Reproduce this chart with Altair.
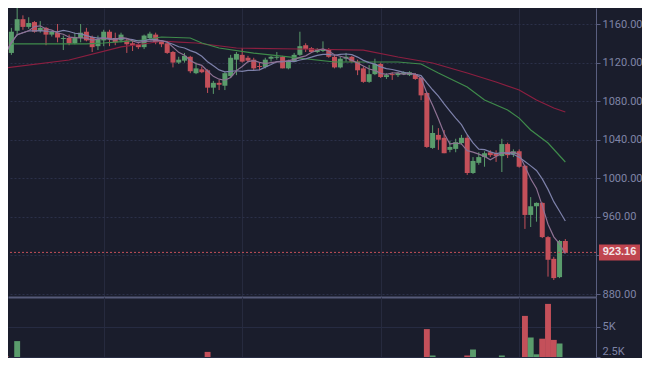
import altair as alt
import pandas as pd

# ---------------- data ----------------
open_ = [1141, 1130, 1153, 1165, 1157, 1162, 1153, 1156, 1149, 1151,
         1144.5, 1145.5, 1140, 1145.5, 1152, 1146.5, 1137, 1143, 1152, 1145.5,
         1143, 1143, 1140, 1139, 1136, 1145.5, 1149, 1142, 1140, 1131,
         1120, 1122, 1126, 1109, 1113, 1112, 1094, 1099, 1096, 1106,
         1123, 1128, 1125, 1123, 1116.5, 1115.5, 1124, 1125, 1126, 1114,
         1121, 1128, 1138, 1135, 1131, 1132, 1134, 1126, 1115, 1124,
         1126, 1121, 1114, 1100, 1108, 1118.5, 1105, 1108, 1107, 1108,
         1107, 1108, 1104, 1088.5, 1031.5, 1045, 1042, 1029.5, 1030.5, 1036.5,
         1042, 1005.5, 1016, 1022, 1027, 1026, 1023, 1035.5, 1025, 1028,
         1013, 962, 971, 974.5, 939, 916.5, 897.5, 935]
close = [1130, 1152, 1165, 1157, 1161, 1152, 1156, 1149, 1152, 1146,
         1145.5, 1140, 1146.5, 1151, 1143, 1136, 1144.5, 1152, 1144.5, 1141,
         1149, 1139, 1138, 1136, 1148, 1150, 1141, 1139, 1130, 1120,
         1123, 1127, 1111, 1114, 1110, 1094, 1099, 1097, 1109, 1125,
         1129, 1121, 1122, 1114, 1115.5, 1123, 1126, 1126, 1114, 1122,
         1128, 1137, 1134, 1131, 1134, 1134, 1126, 1115, 1124, 1126,
         1121, 1112, 1100, 1108, 1118.5, 1105, 1107, 1107, 1109, 1110,
         1110, 1103, 1086, 1032.5, 1047, 1040, 1026, 1032.5, 1037.5, 1042,
         1005.5, 1018, 1022, 1026, 1024, 1023, 1035.5, 1024, 1028, 1012,
         962, 971, 974.5, 939, 915.5, 896.5, 935, 923.16]
high = [1143, 1156, 1182, 1169, 1167, 1163, 1163, 1157, 1153, 1160,
        1148, 1149, 1151, 1160, 1156, 1148, 1148, 1154, 1154, 1151,
        1151, 1145.5, 1143, 1140, 1149, 1152, 1151, 1143, 1141, 1132,
        1126, 1130, 1127, 1120, 1116, 1113, 1101, 1102, 1110, 1128,
        1131, 1135, 1127, 1125, 1120, 1125, 1127, 1131, 1127, 1123,
        1130, 1152, 1140, 1136, 1135, 1142, 1135, 1128, 1126, 1130,
        1127, 1123, 1116, 1117.5, 1124, 1120, 1109, 1110, 1110, 1111,
        1111, 1109, 1105, 1089.5, 1055, 1052, 1050, 1039, 1041, 1045,
        1045, 1022, 1027, 1028, 1029, 1029, 1041, 1037, 1030, 1030,
        1014, 980.5, 975, 975, 940, 918.5, 936, 937]
low = [1124.7, 1128, 1148, 1154, 1155, 1151, 1151, 1138, 1147, 1141,
       1133, 1138, 1139, 1141, 1142, 1131, 1133, 1137, 1137, 1138,
       1141, 1130, 1132, 1134, 1134, 1144.5, 1139, 1136, 1129, 1115,
       1118.5, 1120, 1109, 1108, 1109, 1088.5, 1087.5, 1091.5, 1091.5, 1104,
       1107, 1120, 1120, 1112, 1112, 1114, 1121, 1123, 1114, 1113,
       1121, 1127, 1131, 1131, 1130, 1131, 1125, 1114, 1114, 1121,
       1120, 1107, 1099, 1099, 1107, 1104, 1103, 1102, 1105, 1107,
       1106, 1102, 1081, 1031.5, 1030.5, 1029.5, 1026, 1027, 1027, 1035,
       1003.5, 1004.5, 1014, 1012, 1022, 1017, 1006.5, 1021, 1022, 1011,
       947.5, 949.5, 955, 938, 898, 894.5, 896.5, 922.5]
volume = [2560, 1500, 3800, 1900, 1200, 1300, 1100, 2400, 1000, 1300,
          1200, 1100, 1000, 1300, 1200, 1400, 1100, 1300, 1200, 1000,
          1000, 1200, 900, 900, 1300, 1000, 1200, 900, 1400, 1600,
          1200, 1100, 1700, 1200, 1000, 2900, 1500, 1200, 1400, 2000,
          2300, 2000, 1100, 1300, 1000, 1200, 900, 1000, 1400, 1200,
          1300, 1900, 1200, 1000, 900, 1100, 1200, 1500, 1300, 1000,
          1100, 1500, 2100, 1400, 1500, 1600, 1000, 900, 900, 800,
          900, 1200, 1700, 4800, 2600, 1700, 2100, 1500, 1400, 1300,
          2600, 3100, 1500, 1400, 1100, 1200, 2600, 1500, 1200, 1700,
          5900, 4100, 2700, 4000, 6900, 3900, 3600, 1500]
ma5 = [1129.9, 1140.8, 1148.9, 1150.9, 1153.0, 1157.3, 1158.1, 1154.8, 1153.8, 1150.7,
       1149.4, 1146.3, 1145.9, 1145.7, 1145.3, 1143.4, 1144.2, 1145.3, 1144.0, 1143.6,
       1146.1, 1145.1, 1142.4, 1140.7, 1142.0, 1142.2, 1142.6, 1142.8, 1141.6, 1136.0,
       1130.6, 1127.7, 1122.1, 1118.9, 1117.1, 1111.3, 1105.7, 1102.8, 1101.7, 1104.6,
       1111.7, 1116.0, 1121.0, 1122.1, 1120.2, 1118.9, 1120.0, 1120.8, 1120.8, 1122.1,
       1123.1, 1125.4, 1127.0, 1130.4, 1132.8, 1134.1, 1131.8, 1128.1, 1126.6, 1125.0,
       1122.3, 1119.6, 1116.5, 1113.3, 1111.9, 1108.8, 1107.7, 1109.2, 1109.4, 1107.7,
       1108.8, 1108.0, 1103.8, 1088.5, 1075.8, 1061.7, 1046.4, 1035.6, 1036.6, 1035.6,
       1028.7, 1027.1, 1025.0, 1022.7, 1019.2, 1022.7, 1026.2, 1026.7, 1027.1, 1024.6,
       1012.3, 999.5, 989.5, 971.7, 952.4, 939.3, 932.1, 921.9]
ma10 = [1129.9, 1140.8, 1148.9, 1150.9, 1153.0, 1152.8, 1153.2, 1152.6, 1152.5, 1151.8,
        1153.4, 1152.2, 1150.4, 1149.7, 1148.0, 1146.4, 1145.3, 1145.6, 1144.9, 1144.5,
        1144.8, 1144.7, 1143.8, 1142.4, 1142.8, 1144.1, 1143.8, 1142.6, 1141.1, 1139.0,
        1136.4, 1135.1, 1132.4, 1130.3, 1126.5, 1120.9, 1116.7, 1112.4, 1110.3, 1110.9,
        1111.5, 1110.9, 1111.9, 1111.9, 1112.4, 1115.3, 1118.0, 1120.9, 1121.4, 1121.1,
        1121.0, 1122.7, 1123.9, 1125.6, 1127.5, 1128.6, 1128.6, 1127.6, 1128.5, 1128.9,
        1128.2, 1125.7, 1122.3, 1120.0, 1118.4, 1115.5, 1113.7, 1112.8, 1111.4, 1109.8,
        1108.8, 1107.9, 1106.5, 1098.9, 1091.8, 1085.2, 1077.2, 1069.7, 1062.5, 1055.7,
        1045.2, 1036.7, 1030.3, 1029.7, 1027.4, 1025.7, 1026.7, 1025.8, 1024.9, 1021.9,
        1017.5, 1012.9, 1008.1, 999.4, 988.5, 975.8, 965.8, 955.7]
ma30_idx = [1, 14, 17, 19, 24, 27, 32, 34, 37, 43, 51, 57, 65, 68, 72, 75, 80, 83, 87, 89, 91, 94, 97]
ma30_val = [1139.3, 1139.3, 1140.3, 1141.3, 1143.4, 1146.5, 1145.5, 1140.3, 1135.1, 1129.9,
            1124.7, 1120.6, 1120.6, 1120.6, 1118.5, 1109.2, 1094.7, 1081.2, 1070.8, 1062.4,
            1050.1, 1036.6, 1016.9]
ma60_idx = [0, 11, 20, 25, 27, 30, 33, 40, 51, 62, 68, 74, 80, 85, 89, 92, 95, 97]
ma60_val = [1114.4, 1122.7, 1136.2, 1140.3, 1142.4, 1141.3, 1140.3, 1135.1, 1134.1, 1133.0,
            1125.8, 1119.6, 1109.2, 1099.9, 1091.6, 1081.2, 1072.9, 1068.8]
last_price = [923.16]
last_label = ["923.16"]
price_ticks = [880, 920, 960, 1000, 1040, 1080, 1120, 1160]
volume_ticks = [2500, 5000]
day_lines = [17, 41, 65, 89]

# ---------------- styling ----------------
BG = "#1a1d2c"
GRID = "#262a3e"
AXIS = "#5a5f80"
LABEL = "#7f84a6"
UP = "#5a9c6c"
DOWN = "#c4505a"
VUP = "#1f4d2c"
VDOWN = "#7a1c34"
C_MA5 = "#8e7193"
C_MA10 = "#7d81aa"
C_MA30 = "#3f8b4b"
C_MA60 = "#8c1f40"

W, H1, H2 = 588, 289, 60

candles = pd.DataFrame({"i": list(range(len(close))), "open": open_, "close": close,
                        "high": high, "low": low, "volume": volume})
candles["dir"] = ["up" if c >= o else "down" for o, c in zip(open_, close)]
last_df = pd.DataFrame({"p": last_price, "t": last_label})

def series(idx, vals):
    return pd.DataFrame({"i": idx, "v": vals})

xs = alt.Scale(domain=[1.278, 101.45], nice=False, zero=False)
ys = alt.Scale(domain=[876.9, 1176.6], nice=False, zero=False)
vs = alt.Scale(domain=[2475, 7475], nice=False, zero=False)
cdir = alt.Scale(domain=["up", "down"], range=[UP, DOWN])
vdir = alt.Scale(domain=["up", "down"], range=[VUP, VDOWN])

x_price = alt.X("i:Q", scale=xs, title=None,
                axis=alt.Axis(values=day_lines, grid=True, gridColor=GRID, labels=False,
                              ticks=False, domain=True, domainColor="#555a78", domainWidth=2))
# the 920 label sits under the last-price tag in the reference, so only its tick/grid show
y_price = alt.Y("low:Q", scale=ys, title=None,
                axis=alt.Axis(orient="right", values=price_ticks,
                              labelExpr="datum.value == 920 ? '' : format(datum.value, '.2f')",
                              grid=True, gridColor="#2b3049", gridDash=[2, 2], tickColor=AXIS,
                              tickSize=4, domainColor=AXIS, labelColor=LABEL, labelPadding=2))

base = alt.Chart(candles)
wicks = base.mark_rule(strokeWidth=1, clip=True).encode(
    x=x_price, y=y_price, y2="high:Q",
    color=alt.Color("dir:N", scale=cdir, legend=None))
bodies = base.mark_bar(size=5, clip=True).encode(
    x="i:Q", y="open:Q", y2="close:Q",
    color=alt.Color("dir:N", scale=cdir, legend=None))

def ma_line(df, col, w=1.2):
    return alt.Chart(df).mark_line(color=col, strokeWidth=w, clip=True).encode(
        x="i:Q", y="v:Q")

l60 = ma_line(series(ma60_idx, ma60_val), C_MA60)
l30 = ma_line(series(ma30_idx, ma30_val), C_MA30)
l10 = ma_line(series(list(range(len(ma10))), ma10), C_MA10)
l5 = ma_line(series(list(range(len(ma5))), ma5), C_MA5)

last = alt.Chart(last_df)
pline = last.mark_rule(color=DOWN, strokeDash=[2, 2], strokeWidth=1, clip=True).encode(
    y="p:Q")
tag = last.mark_rect(color="#c0454f", yOffset=-8, y2Offset=8).encode(
    x=alt.value(W + 3), x2=alt.value(W + 44), y="p:Q", y2="p:Q")
tag_text = last.mark_text(color="#f3e6e8", fontSize=11, fontWeight="bold",
                          align="center", baseline="middle").encode(
    x=alt.value(W + 23.5), y="p:Q", text="t:N")

price = alt.layer(wicks, bodies, l60, l30, l10, l5, pline, tag, tag_text).properties(width=W, height=H1)

vol = alt.Chart(candles).mark_bar(size=5.9, clip=True).encode(
    x=alt.X("i:Q", scale=xs, title=None,
            axis=alt.Axis(values=day_lines, grid=True, gridColor=GRID, labels=False,
                          ticks=False, domain=False)),
    y=alt.Y("volume:Q", scale=vs, title=None,
            axis=alt.Axis(orient="right", values=volume_ticks, labelExpr="datum.value / 1000 + 'K'",
                          grid=True, gridColor="#262b42", tickColor=AXIS, tickSize=4,
                          domainColor=AXIS, labelColor=LABEL, labelPadding=2, labelFlush=True)),
    y2=alt.datum(0),
    color=alt.Color("dir:N", scale=vdir, legend=None),
).properties(width=W, height=H2)

chart = alt.vconcat(price, vol, spacing=0, bounds="flush",
                    padding={"left": 0, "top": 0, "right": 0, "bottom": 0}).configure(
    background=BG,
).configure_view(stroke=None).configure_axis(
    labelFont="Roboto", labelFontSize=11)

chart.save("out.html", embed_options={"renderer": "svg", "actions": False})
